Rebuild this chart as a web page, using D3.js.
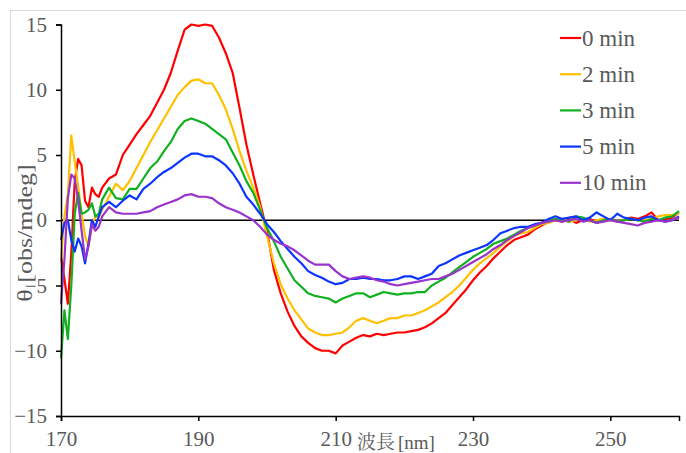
<html>
<head>
<meta charset="utf-8">
<script src="https://d3js.org/d3.v7.min.js"></script>
<style>
body { margin: 0; background: #fff; }
svg { display: block; }
</style>
</head>
<body>
<svg></svg>
<script>

// Data
var wavelengths = [170, 170.5, 171, 171.5, 172, 172.5, 173, 173.5, 174, 174.5, 175, 175.5, 176,
	177, 178, 179, 180, 181, 182, 183, 184, 185, 186, 187, 188, 189, 190,
	191, 192, 193, 194, 195, 196, 197, 198, 199, 200,
	201, 202, 203, 204, 205, 206, 207, 208, 209, 210,
	211, 212, 213, 214, 215, 216, 217, 218, 219, 220,
	221, 222, 223, 224, 225, 226, 227, 228, 229, 230,
	231, 232, 233, 234, 235, 236, 237, 238, 239, 240,
	241, 242, 243, 244, 245, 246, 247, 248, 249, 250,
	251, 252, 253, 254, 255, 256, 257, 258, 259, 260];

var labels = ["0 min", "2 min", "3 min", "5 min", "10 min"];
var colors = ["#ff0000", "#ffc000", "#10b020", "#0b35ff", "#9933cc"];

var min0 = [-2.8, -4.5, -6.4, -2.5, 3.0, 4.7, 4.2, 1.5, 1.0, 2.5, 2.0, 1.8, 2.5,
	3.2, 3.5, 5.0, 5.8, 6.6, 7.3, 8.0, 9.0, 10.0, 11.3, 13.0, 14.6, 15.0, 14.9,
	15.0, 14.9, 14.0, 12.8, 11.3, 8.6, 5.8, 3.5, 1.3, -0.8,
	-3.8, -5.6, -7.0, -8.1, -8.9, -9.4, -9.8, -10.0, -10.0, -10.2,
	-9.6, -9.3, -9.0, -8.8, -8.9, -8.7, -8.8, -8.7, -8.6, -8.6,
	-8.5, -8.4, -8.2, -7.9, -7.5, -7.1, -6.5, -5.9, -5.3, -4.6,
	-4.0, -3.5, -2.9, -2.4, -1.9, -1.5, -1.3, -1.1, -0.7, -0.4,
	-0.1, 0.0, -0.1, 0.1, -0.2, 0.0, 0.1, -0.1, 0.0, 0.1,
	-0.1, 0.0, 0.2, 0.1, 0.3, 0.6, 0.0, 0.1, 0.2, 0.6];

var min2 = [-3.0, 0.3, 2.0, 6.5, 4.5, 2.6, 0.5, -1.2, -2.0, -0.5, 0.3, 0.2, 0.8,
	1.8, 2.8, 2.3, 3.0, 4.0, 5.0, 6.0, 6.9, 7.8, 8.7, 9.6, 10.2, 10.7, 10.8,
	10.5, 10.5, 9.6, 8.5, 7.0, 5.3, 3.8, 2.5, 1.0, -1.2,
	-3.3, -4.9, -6.0, -6.9, -7.6, -8.3, -8.6, -8.8, -8.8, -8.7,
	-8.6, -8.2, -7.7, -7.5, -7.7, -7.9, -7.7, -7.5, -7.5, -7.3,
	-7.3, -7.1, -6.9, -6.6, -6.3, -5.9, -5.5, -5.0, -4.4, -3.8,
	-3.3, -2.9, -2.5, -2.0, -1.6, -1.2, -1.0, -0.9, -0.6, -0.3,
	-0.2, 0.0, 0.1, -0.1, 0.0, 0.1, -0.1, 0.0, 0.1, 0.0,
	-0.1, 0.0, 0.1, 0.0, 0.0, 0.1, 0.3, 0.4, 0.4, 0.5];

var min3 = [-10.6, -6.9, -9.1, -5.0, 0.5, 2.1, 0.5, 0.6, 0.8, 1.3, 0.3, 0.5, 1.6,
	2.5, 1.7, 1.6, 2.4, 2.4, 3.2, 4.0, 4.5, 5.3, 6.0, 7.0, 7.6, 7.8, 7.6,
	7.4, 7.0, 6.6, 6.2, 5.2, 4.2, 3.0, 2.1, 0.8, -0.6,
	-1.6, -2.8, -3.7, -4.6, -5.1, -5.6, -5.8, -5.9, -6.0, -6.3,
	-6.0, -5.8, -5.6, -5.6, -5.9, -5.7, -5.5, -5.6, -5.7, -5.6,
	-5.6, -5.5, -5.5, -5.0, -4.7, -4.4, -4.0, -3.6, -3.2, -2.8,
	-2.5, -2.2, -1.8, -1.6, -1.4, -1.1, -0.8, -0.6, -0.4, -0.2,
	0.0, 0.1, 0.0, -0.1, 0.3, 0.2, 0.0, -0.2, 0.0, 0.1,
	-0.1, 0.0, 0.1, 0.0, -0.1, 0.1, 0.0, 0.2, 0.3, 0.7];

var min5 = [-1.5, -0.2, 0.0, -1.5, -2.4, -1.4, -2.0, -3.3, -1.8, 0.0, -0.5, 0.3, 1.0,
	1.4, 1.0, 1.5, 1.9, 1.6, 2.4, 2.8, 3.3, 3.7, 4.0, 4.4, 4.8, 5.1, 5.1,
	4.9, 4.9, 4.6, 4.2, 3.6, 2.8, 1.8, 1.2, 0.5, -0.3,
	-0.9, -1.6, -2.2, -2.8, -3.3, -3.9, -4.2, -4.4, -4.7, -4.9,
	-4.8, -4.5, -4.5, -4.4, -4.5, -4.5, -4.6, -4.6, -4.5, -4.3,
	-4.3, -4.5, -4.3, -4.1, -3.5, -3.3, -3.0, -2.7, -2.5, -2.3,
	-2.1, -1.9, -1.5, -1.0, -0.8, -0.6, -0.5, -0.5, -0.3, -0.2,
	0.1, 0.3, 0.1, 0.2, 0.3, 0.0, 0.2, 0.6, 0.3, 0.0,
	0.5, 0.2, 0.1, 0.0, 0.2, 0.3, 0.0, -0.1, 0.0, 0.3];

var min10 = [-6.4, -3.0, 1.7, 3.5, 3.2, 1.5, -0.8, -3.0, -2.0, -0.3, -0.8, -0.5, 0.3,
	1.0, 0.6, 0.5, 0.5, 0.5, 0.6, 0.7, 1.0, 1.2, 1.4, 1.6, 1.9, 2.0, 1.8,
	1.8, 1.7, 1.3, 1.0, 0.8, 0.6, 0.3, 0.0, -0.5, -1.1,
	-1.5, -1.8, -2.0, -2.3, -2.7, -3.1, -3.4, -3.4, -3.4, -3.9,
	-4.3, -4.5, -4.4, -4.3, -4.4, -4.6, -4.7, -4.9, -5.0, -4.9,
	-4.8, -4.7, -4.6, -4.5, -4.5, -4.3, -4.1, -3.8, -3.5, -3.2,
	-2.9, -2.6, -2.2, -1.9, -1.5, -1.2, -0.9, -0.6, -0.4, -0.2,
	-0.1, 0.0, -0.1, 0.0, 0.1, -0.1, 0.0, -0.2, -0.1, 0.0,
	-0.1, -0.2, -0.3, -0.4, -0.2, -0.1, 0.0, -0.1, 0.0, 0.2];

var series = [min0, min2, min3, min5, min10];

var xTicks = [170, 190, 210, 230, 250];
var yTicks = [-15, -10, -5, 0, 5, 10, 15];

var width = 686;
var height = 453;
var serif = "Liberation Serif";
var grey = "#595959";

var svg = d3.select("svg").attr("width", width).attr("height", height);

// light frame round the chart area
svg.append("rect")
	.attr("x", 10.5).attr("y", 10.5)
	.attr("width", 700).attr("height", 470)
	.attr("fill", "none")
	.attr("stroke", "#d9d9d9");

var xScale = d3.scaleLinear().domain([170, 260]).range([61, 679]);
var yScale = d3.scaleLinear().domain([-15, 15]).range([416, 24.5]);

// zero line
svg.append("line")
	.attr("x1", xScale(170)).attr("x2", xScale(260))
	.attr("y1", yScale(0)).attr("y2", yScale(0))
	.attr("stroke", "#000").attr("stroke-width", 1.3);

var line = d3.line()
	.x(function (d, i) { return xScale(wavelengths[i]); })
	.y(function (d) { return yScale(d); });

svg.selectAll("path.series")
	.data(series)
	.enter().append("path")
	.attr("class", "series")
	.attr("d", line)
	.attr("fill", "none")
	.attr("stroke", function (d, i) { return colors[i]; })
	.attr("stroke-width", 2.2)
	.attr("stroke-linejoin", "round");

// Axes
var xAxis = svg.append("g")
	.attr("transform", "translate(0," + yScale(-15) + ")")
	.call(d3.axisBottom(xScale).tickValues(xTicks).tickSize(5).tickPadding(10));

var yAxis = svg.append("g")
	.attr("transform", "translate(" + xScale(170) + ",0)")
	.call(d3.axisLeft(yScale).tickValues(yTicks).tickSize(5).tickPadding(9));

[xAxis, yAxis].forEach(function (g) {
	g.attr("font-family", serif).attr("font-size", 21);
	g.select(".domain").attr("stroke", "#000").attr("stroke-width", 1.5);
	g.selectAll(".tick line").attr("stroke", "#000").attr("stroke-width", 1.5);
	g.selectAll(".tick text").attr("fill", grey);
});

// Axis titles (stretched along its length like the original)
svg.append("text")
	.attr("transform", "translate(32,233) rotate(-90) scale(1.3,1)")
	.attr("text-anchor", "middle")
	.attr("font-family", serif)
	.attr("font-size", 20)
	.attr("fill", grey)
	.text("θ [obs/mdeg]");

var xTitle = svg.append("text")
	.attr("x", 357)
	.attr("y", 449)
	.attr("font-family", serif)
	.attr("font-size", 19)
	.attr("fill", grey);
xTitle.append("tspan")
	.attr("font-family", "Noto Serif CJK JP")
	.attr("font-size", 19)
	.text("波長");
xTitle.append("tspan")
	.attr("dx", 3)
	.text("[nm]");

// Legend
var legend = svg.selectAll("g.legend")
	.data(labels)
	.enter().append("g")
	.attr("class", "legend")
	.attr("transform", function (d, i) { return "translate(560," + (38 + i * 36.2) + ")"; });

legend.append("line")
	.attr("x1", 0).attr("x2", 21)
	.attr("y1", 0).attr("y2", 0)
	.attr("stroke", function (d, i) { return colors[i]; })
	.attr("stroke-width", 2.2);

legend.append("text")
	.attr("x", 22)
	.attr("y", 7.5)
	.attr("font-family", serif)
	.attr("font-size", 23)
	.attr("fill", grey)
	.text(function (d) { return d; });

</script>
</body>
</html>
